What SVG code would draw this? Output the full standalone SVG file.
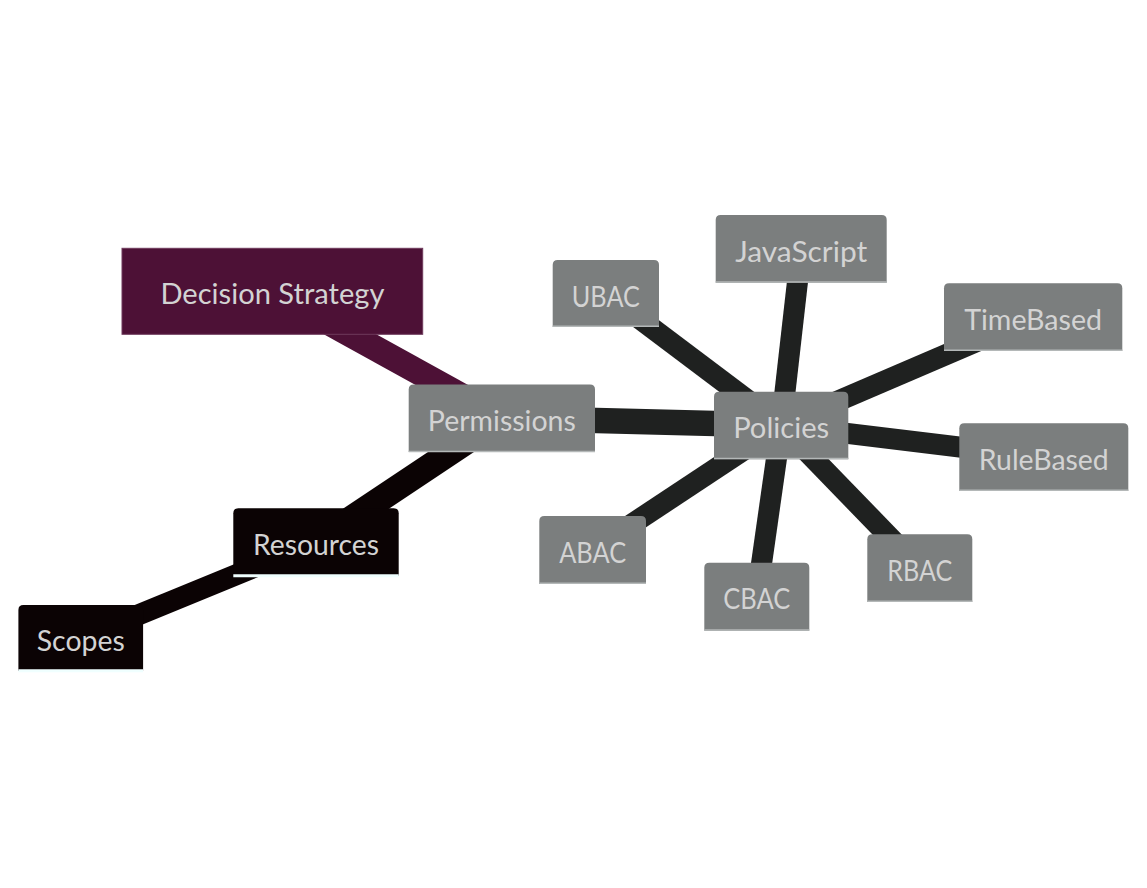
<svg xmlns="http://www.w3.org/2000/svg" width="1147" height="888" viewBox="0 0 1147 888">
<style>
.bg{fill:#ffffff}
.e0{fill:none;stroke-width:25.5;stroke-linecap:butt}
.e1{fill:none;stroke-width:21;stroke-linecap:butt}
.gray{fill:#7b7e7e}
.blk{fill:#0b0304}
.pur{fill:#4d1136;stroke:#6e3a5c;stroke-width:1}
.lg{stroke:#b4b8b8;stroke-width:1.5}
.lb{stroke:#f0ffff;stroke-width:3}
text{font-family:Lato,"Noto Sans","DejaVu Sans",sans-serif;font-size:28px;fill:#d3d3d3;text-anchor:middle}
</style>
<rect class="bg" x="0" y="0" width="1147" height="888"/>
<g id="connectors">
<line class="e0" x1="501.8" y1="418.2" x2="272.4" y2="291.3" stroke="#4d1136"/>
<line class="e0" x1="501.8" y1="418.2" x2="316" y2="542" stroke="#0b0304"/>
<line class="e0" x1="501.8" y1="418.2" x2="781.2" y2="425.3" stroke="#1f2120"/>
<line class="e1" x1="316" y1="542" x2="80.8" y2="638.5" stroke="#0b0304"/>
<line class="e1" x1="781.2" y1="425.3" x2="605.9" y2="293.4" stroke="#1f2120"/>
<line class="e1" x1="781.2" y1="425.3" x2="801.2" y2="248.9" stroke="#1f2120"/>
<line class="e1" x1="781.2" y1="425.3" x2="1033.2" y2="317.2" stroke="#1f2120"/>
<line class="e1" x1="781.2" y1="425.3" x2="1043.8" y2="457.2" stroke="#1f2120"/>
<line class="e1" x1="781.2" y1="425.3" x2="919.8" y2="568.2" stroke="#1f2120"/>
<line class="e1" x1="781.2" y1="425.3" x2="756.8" y2="596.7" stroke="#1f2120"/>
<line class="e1" x1="781.2" y1="425.3" x2="592.7" y2="550" stroke="#1f2120"/>
</g>
<g id="decision-strategy">
<rect class="pur" x="122" y="248.3" width="300.7" height="86"/>
<text x="272.4" y="304" textLength="224" lengthAdjust="spacingAndGlyphs">Decision Strategy</text>
</g>
<g id="permissions" transform="translate(408.7,384.6)">
<path class="gray" d="M0,67.5 V5 Q0,0 5,0 H181.3 Q186.3,0 186.3,5 V67.5 Z"/>
<line class="lg" x1="0" y1="66.8" x2="186.3" y2="66.8"/>
<text x="93.15" y="46.7" textLength="148" lengthAdjust="spacingAndGlyphs">Permissions</text>
</g>
<g id="resources" transform="translate(233.3,508.3)">
<path class="blk" d="M0,67.5 V5 Q0,0 5,0 H160.4 Q165.4,0 165.4,5 V67.5 Z"/>
<line class="lb" x1="0" y1="67.5" x2="165.4" y2="67.5"/>
<text x="82.7" y="46.7" textLength="126" lengthAdjust="spacingAndGlyphs">Resources</text>
</g>
<g id="scopes" transform="translate(18.4,605)">
<path class="blk" d="M0,65.8 V5 Q0,0 5,0 H119.7 Q124.7,0 124.7,5 V65.8 Z"/>
<line class="lb" x1="0" y1="65.8" x2="124.7" y2="65.8"/>
<text x="62.35" y="46" textLength="88" lengthAdjust="spacingAndGlyphs">Scopes</text>
</g>
<g id="policies" transform="translate(714,391.7)">
<path class="gray" d="M0,67.5 V5 Q0,0 5,0 H129.3 Q134.3,0 134.3,5 V67.5 Z"/>
<line class="lg" x1="0" y1="66.8" x2="134.3" y2="66.8"/>
<text x="67.15" y="46.7" textLength="96" lengthAdjust="spacingAndGlyphs">Policies</text>
</g>
<g id="ubac" transform="translate(552.7,260)">
<path class="gray" d="M0,67 V5 Q0,0 5,0 H101.3 Q106.3,0 106.3,5 V67 Z"/>
<line class="lg" x1="0" y1="66.3" x2="106.3" y2="66.3"/>
<text x="53.15" y="46.7" textLength="68" lengthAdjust="spacingAndGlyphs">UBAC</text>
</g>
<g id="javascript" transform="translate(715.7,215)">
<path class="gray" d="M0,67.7 V5 Q0,0 5,0 H166 Q171,0 171,5 V67.7 Z"/>
<line class="lg" x1="0" y1="67" x2="171" y2="67"/>
<text x="85.5" y="46.7" textLength="132" lengthAdjust="spacingAndGlyphs">JavaScript</text>
</g>
<g id="timebased" transform="translate(944,283.3)">
<path class="gray" d="M0,67.7 V5 Q0,0 5,0 H173.3 Q178.3,0 178.3,5 V67.7 Z"/>
<line class="lg" x1="0" y1="67" x2="178.3" y2="67"/>
<text x="89.15" y="46.7" textLength="138" lengthAdjust="spacingAndGlyphs">TimeBased</text>
</g>
<g id="rulebased" transform="translate(959.3,423.3)">
<path class="gray" d="M0,67.7 V5 Q0,0 5,0 H164 Q169,0 169,5 V67.7 Z"/>
<line class="lg" x1="0" y1="67" x2="169" y2="67"/>
<text x="84.5" y="46.7" textLength="130" lengthAdjust="spacingAndGlyphs">RuleBased</text>
</g>
<g id="rbac" transform="translate(867.3,534.3)">
<path class="gray" d="M0,67.7 V5 Q0,0 5,0 H100 Q105,0 105,5 V67.7 Z"/>
<line class="lg" x1="0" y1="67" x2="105" y2="67"/>
<text x="52.5" y="46.7" textLength="65" lengthAdjust="spacingAndGlyphs">RBAC</text>
</g>
<g id="cbac" transform="translate(704.3,562.7)">
<path class="gray" d="M0,68 V5 Q0,0 5,0 H100 Q105,0 105,5 V68 Z"/>
<line class="lg" x1="0" y1="67.3" x2="105" y2="67.3"/>
<text x="52.5" y="46.7" textLength="67" lengthAdjust="spacingAndGlyphs">CBAC</text>
</g>
<g id="abac" transform="translate(539.3,516)">
<path class="gray" d="M0,68 V5 Q0,0 5,0 H101.7 Q106.7,0 106.7,5 V68 Z"/>
<line class="lg" x1="0" y1="67.3" x2="106.7" y2="67.3"/>
<text x="53.35" y="46.7" textLength="67" lengthAdjust="spacingAndGlyphs">ABAC</text>
</g>
</svg>
